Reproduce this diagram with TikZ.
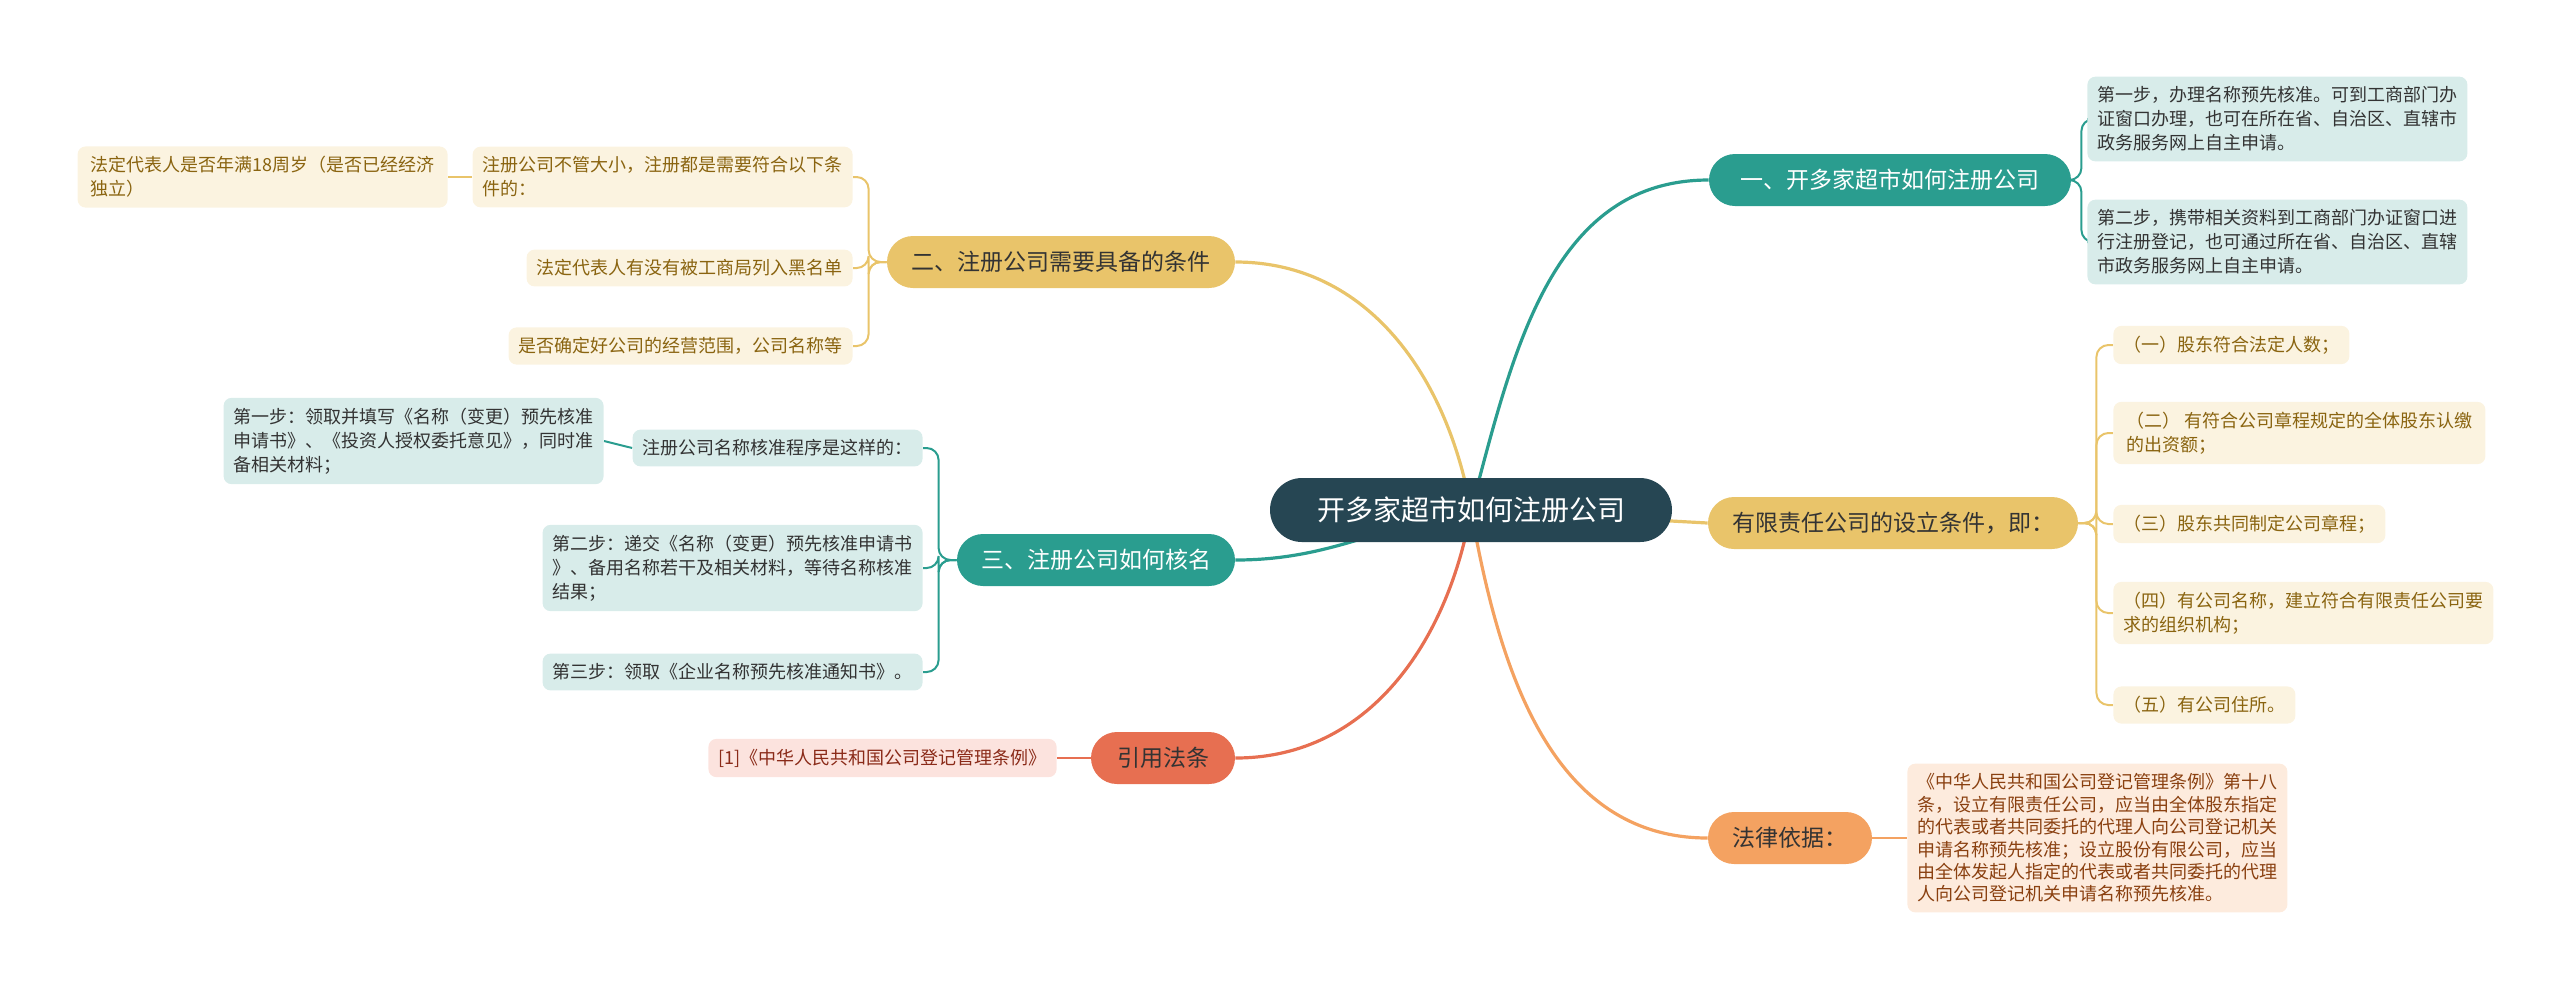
\documentclass[tikz,border=0pt]{standalone}
\usepackage{fontspec}
\setmainfont{Noto Sans CJK SC}
\usetikzlibrary{backgrounds,positioning}
\definecolor{cdark}{HTML}{264653}
\definecolor{cteal}{HTML}{2A9D8F}
\definecolor{ctealL}{HTML}{D8ECEA}
\definecolor{cyel}{HTML}{E9C46A}
\definecolor{cyelL}{HTML}{FBF3E0}
\definecolor{cyelT}{HTML}{8A6410}
\definecolor{cora}{HTML}{F4A261}
\definecolor{coraL}{HTML}{FDEBDD}
\definecolor{coraT}{HTML}{8A4010}
\definecolor{cred}{HTML}{E76F51}
\definecolor{credL}{HTML}{FCE3DE}
\definecolor{credT}{HTML}{8A2A18}
\tikzset{
  leaf/.style={rounded corners=4pt,align=left,inner xsep=5pt,inner ysep=5pt,font=\fontsize{9}{12}\selectfont,anchor=west},
  tleaf/.style={leaf,fill=ctealL,text=black!80},
  yleaf/.style={leaf,fill=cyelL,text=cyelT},
  branch/.style={rounded corners=13pt,minimum height=26pt,inner xsep=12pt,font=\fontsize{11.5}{14}\selectfont},
  conn/.style={line width=1pt},
}
\begin{document}
\begin{tikzpicture}[x=0.5pt,y=-0.5pt]
\useasboundingbox (0,0) rectangle (2560,993);
\node[fill=cdark,text=white,rounded corners=16pt,minimum width=201pt,minimum height=32pt,font=\fontsize{14}{16}\selectfont] (c) at (1471,510) {开多家超市如何注册公司};
% right branches
\node[branch,fill=cteal,text=white,minimum width=181pt] (b1) at (1890,180) {一、开多家超市如何注册公司};
\node[branch,fill=cyel,text=black!80,minimum width=184pt] (b2) at (1893,523) {有限责任公司的设立条件，即：};
\node[branch,fill=cora,text=black!80,minimum width=82pt] (b3) at (1790,838) {法律依据：};
% left branches
\node[branch,fill=cyel,text=black!80,minimum width=174pt] (l1) at (1061,262) {二、注册公司需要具备的条件};
\node[branch,fill=cteal,text=white,minimum width=139pt] (l2) at (1096,560) {三、注册公司如何核名};
\node[branch,fill=cred,text=black!80,minimum width=72pt] (l3) at (1163,758) {引用法条};
% right leaves
\node[tleaf,minimum width=186pt] (r11) at (2087,119) {第一步，办理名称预先核准。可到工商部门办\\证窗口办理，也可在所在省、自治区、直辖市\\政务服务网上自主申请。};
\node[tleaf,minimum width=186pt] (r12) at (2087,242) {第二步，携带相关资料到工商部门办证窗口进\\行注册登记，也可通过所在省、自治区、直辖\\市政务服务网上自主申请。};
\node[yleaf,minimum width=116pt] (r21) at (2113,345) {（一）股东符合法定人数；};
\node[yleaf,minimum width=186pt] (r22) at (2113,433) {（二） 有符合公司章程规定的全体股东认缴\\的出资额；};
\node[yleaf,minimum width=134pt] (r23) at (2113,524) {（三）股东共同制定公司章程；};
\node[yleaf,minimum width=186pt] (r24) at (2113,613) {（四）有公司名称，建立符合有限责任公司要\\求的组织机构；};
\node[yleaf,minimum width=90pt] (r25) at (2113,705) {（五）有公司住所。};
\node[leaf,fill=coraL,text=coraT,minimum width=186pt,font=\fontsize{9}{11.2}\selectfont] (r31) at (1907,838) {《中华人民共和国公司登记管理条例》第十八\\条，设立有限责任公司，应当由全体股东指定\\的代表或者共同委托的代理人向公司登记机关\\申请名称预先核准；设立股份有限公司，应当\\由全体发起人指定的代表或者共同委托的代理\\人向公司登记机关申请名称预先核准。};
% left leaves
\node[yleaf,anchor=east,minimum width=185pt] (a1) at (853,177) {注册公司不管大小，注册都是需要符合以下条\\件的：};
\node[yleaf,anchor=east,minimum width=185pt] (a0) at (448,177) {法定代表人是否年满18周岁（是否已经经济\\独立）};
\node[yleaf,anchor=east,minimum width=160pt] (a2) at (853,268) {法定代表人有没有被工商局列入黑名单};
\node[yleaf,anchor=east,minimum width=169pt] (a3) at (853,346) {是否确定好公司的经营范围，公司名称等};
\node[tleaf,anchor=east,minimum width=143pt] (m1) at (923,448) {注册公司名称核准程序是这样的：};
\node[tleaf,anchor=east,minimum width=187pt] (m0) at (604,441) {第一步：领取并填写《名称（变更）预先核准\\申请书》、《投资人授权委托意见》，同时准\\备相关材料；};
\node[tleaf,anchor=east,minimum width=187pt] (m2) at (923,568) {第二步：递交《名称（变更）预先核准申请书\\》、备用名称若干及相关材料，等待名称核准\\结果；};
\node[tleaf,anchor=east,minimum width=187pt] (m3) at (923,672) {第三步：领取《企业名称预先核准通知书》。};
\node[leaf,anchor=east,fill=credL,text=credT,minimum width=171pt] (n1) at (1057,758) {[1]《中华人民共和国公司登记管理条例》};
\begin{scope}[on background layer]
\draw[cteal,line width=1.6pt] (c.center) to[out=75,in=180] (b1.west);
\draw[cyel,line width=1.6pt] (c.center) -- (b2.west);
\draw[cora,line width=1.6pt] (c.center) to[out=-80,in=180] (b3.west);
\draw[cyel,line width=1.6pt] (c.center) to[out=100,in=0] (l1.east);
\draw[cteal,line width=1.6pt] (c.center) to[out=190,in=0] (l2.east);
\draw[cred,line width=1.6pt] (c.center) to[out=-100,in=0] (l3.east);
\begin{scope}[rounded corners=6pt,conn]
\foreach \t in {r11,r12} \draw[cteal] (b1.east) -- ++(10,0) |- (\t.west);
\foreach \t in {r21,r22,r23,r24,r25} \draw[cyel] (b2.east) -- ++(18,0) |- (\t.west);
\draw[cora] (b3.east) -- (r31.west);
\foreach \t in {a1,a2,a3} \draw[cyel] (l1.west) -- ++(-18,0) |- (\t.east);
\draw[cyel] (a1.west) -- (a0.east);
\foreach \t in {m1,m2,m3} \draw[cteal] (l2.west) -- ++(-18,0) |- (\t.east);
\draw[cteal] (m1.west) -- (m0.east);
\draw[cred] (l3.west) -- (n1.east);
\end{scope}
\end{scope}
\end{tikzpicture}
\end{document}
